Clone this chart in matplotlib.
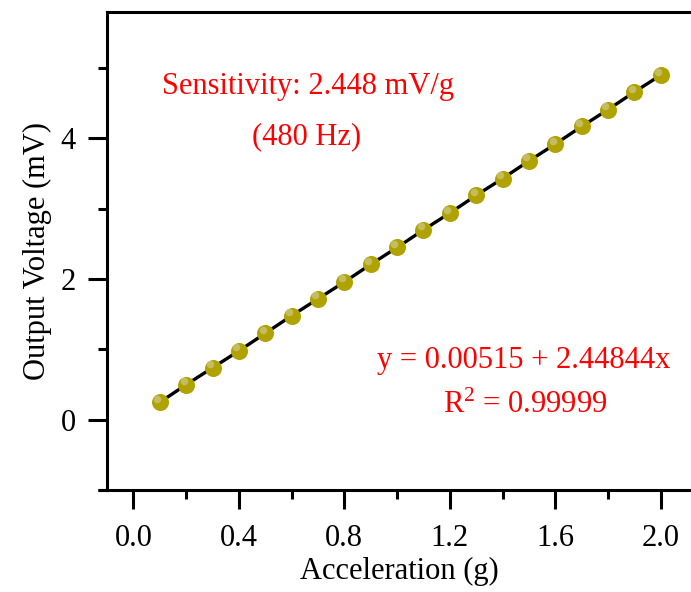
import matplotlib.pyplot as plt
from matplotlib.lines import Line2D
from matplotlib.ticker import MultipleLocator

plt.rcParams['font.family'] = ['Liberation Serif', 'DejaVu Serif']
plt.rcParams['mathtext.fontset'] = 'custom'
plt.rcParams['mathtext.rm'] = 'Liberation Serif'
plt.rcParams['mathtext.it'] = 'Liberation Serif:italic'

# acceleration steps and measured output
accel = [0.1, 0.2, 0.3, 0.4, 0.5, 0.6, 0.7, 0.8, 0.9, 1.0,
         1.1, 1.2, 1.3, 1.4, 1.5, 1.6, 1.7, 1.8, 1.9, 2.0]
voltage = [0.25, 0.50, 0.74, 0.98, 1.23, 1.48, 1.72, 1.96, 2.21, 2.45,
           2.70, 2.94, 3.19, 3.43, 3.68, 3.92, 4.17, 4.41, 4.66, 4.90]

fig = plt.figure(figsize=(6.91, 5.92), dpi=100)
ax = fig.add_axes([0.155, 0.172, 0.845, 0.808])

ax.plot(accel, voltage, color='black', lw=2.4, zorder=2)
# sphere-like markers: base dot plus a small offset highlight
ax.scatter(accel, voltage, s=150, color='#b0a200', zorder=3, linewidths=0)
hx = [a - 0.01 for a in accel]
hy = [v + 0.05 for v in voltage]
ax.scatter(hx, hy, s=30, color='#d6d2b0', alpha=0.55, zorder=4, linewidths=0)

ax.set_xlim(-0.1, 2.115)
ax.set_ylim(-1, 5.8)
ax.xaxis.set_minor_locator(MultipleLocator(0.2))
ax.yaxis.set_minor_locator(MultipleLocator(1))
ax.set_xticks([0.0, 0.4, 0.8, 1.2, 1.6, 2.0])
ax.set_xticklabels(['0.0', '0.4', '0.8', '1.2', '1.6', '2.0'])
ax.set_yticks([0, 2, 4])

for side in ['left', 'bottom', 'top']:
    ax.spines[side].set_linewidth(2.2)
ax.spines['right'].set_visible(False)
ax.tick_params(which='major', direction='out', length=13.5, width=2.2,
               labelsize=22)
ax.tick_params(axis='x', which='major', pad=11)
ax.tick_params(axis='y', which='major', pad=9)
ax.tick_params(which='minor', direction='out', length=6.5, width=2.2)
ax.tick_params(top=False, right=False, which='both')

# bottom axis line runs a little past the left axis
ax.add_line(Line2D([-0.015, 0], [0, 0], transform=ax.transAxes,
                   color='black', lw=2.2, clip_on=False, solid_capstyle='butt'))

ax.set_xlabel('Acceleration (g)', fontsize=22, labelpad=3)
ax.set_ylabel('Output Voltage (mV)', fontsize=22, labelpad=6)

ax.text(0.663, 4.74, 'Sensitivity: 2.448 mV/g', color='red', fontsize=22,
        ha='center', va='center')
ax.text(0.655, 4.03, '(480 Hz)', color='red', fontsize=22,
        ha='center', va='center')
ax.text(1.48, 0.85, 'y = 0.00515 + 2.44844x', color='red', fontsize=22,
        ha='center', va='center')
ax.text(1.485, 0.21, r'R$^{2}$ = 0.99999', color='red', fontsize=22,
        ha='center', va='center')

fig.savefig('out.png', dpi=100)
